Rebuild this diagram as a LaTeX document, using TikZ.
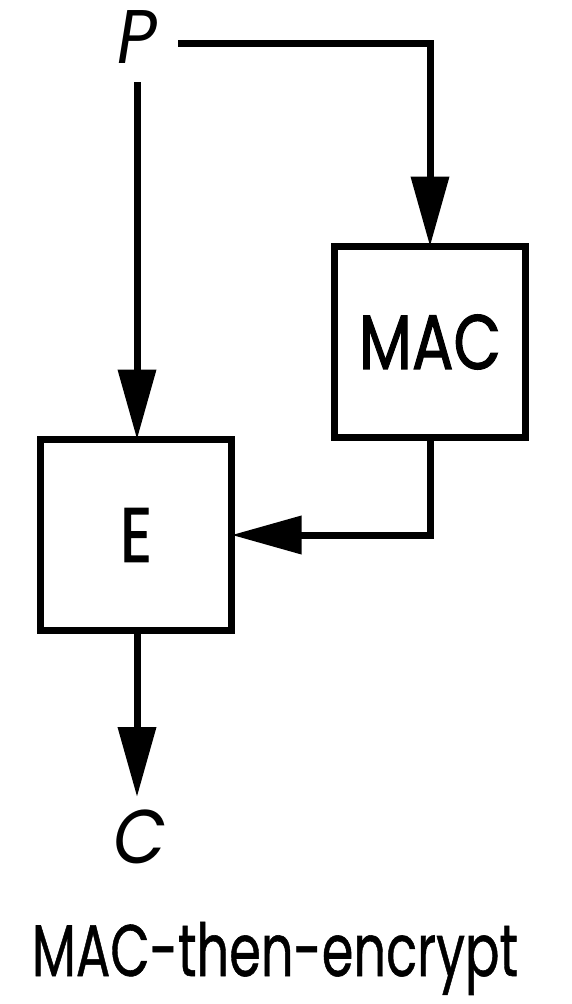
\documentclass[tikz,border=0pt]{standalone}
\usepackage{fontspec}
\usepackage{graphicx}
\setmainfont{Poppins}
\newfontfamily\boxfont{Poppins}[FakeBold=1.6]
\newfontfamily\capfont{Poppins}[FakeBold=0.8]
\usetikzlibrary{arrows.meta}
\begin{document}
\begin{tikzpicture}[x=1pt,y=1pt,
  conn/.style={line width=7pt},
  arr/.style={conn,-{Triangle[length=70pt,width=37pt]}},
  blockbox/.style={draw,line width=7pt,minimum width=191pt,minimum height=191pt,inner sep=0pt,outer sep=0pt,font=\fontsize{77}{77}\boxfont},
  lbl/.style={inner sep=0pt,font=\fontsize{76}{76}\selectfont\itshape}]
\useasboundingbox (0,0) rectangle (572,-1004);
\node[blockbox] (E) at (136,-535) {\scalebox{0.8}[1]{E}};
\node[blockbox] (MAC) at (430,-342) {\scalebox{0.8}[1]{MAC}};
\node[lbl,anchor=base] (P) at (137,-63) {\scalebox{0.9}[1]{P}};
\node[lbl,anchor=base] (C) at (140,-863) {\scalebox{0.9}[1]{C}};
\node[inner sep=0pt,anchor=base,font=\fontsize{73}{73}\capfont] (cap) at (275,-976) {\scalebox{0.7}[1]{MAC-then-encrypt}};
\coordinate (Pd) at (137,-82);
\coordinate (Pr) at (178,-43);
\coordinate (Cu) at (137,-797);
\draw[arr] (Pd) -- (Pd|-E.north);
\draw[arr] (Pr) -| (MAC.north);
\draw[arr] (MAC.south) |- (E.east);
\draw[arr] (Cu|-E.south) -- (Cu);
\end{tikzpicture}
\end{document}
